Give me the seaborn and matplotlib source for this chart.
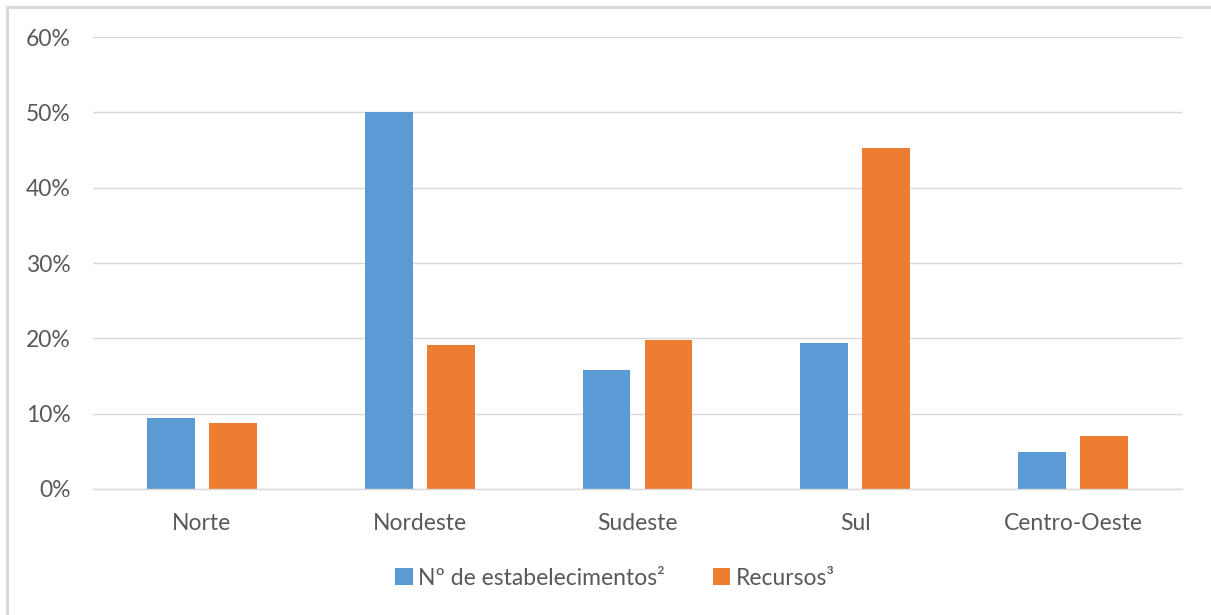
import pandas as pd
import matplotlib.pyplot as plt
import seaborn as sns
from matplotlib.lines import Line2D
from matplotlib.ticker import PercentFormatter

# --- dados ---
regioes = ["Norte", "Nordeste", "Sudeste", "Sul", "Centro-Oeste"]
estabelecimentos = [9.4, 50.1, 15.8, 19.4, 4.9]
recursos = [8.8, 19.1, 19.8, 45.3, 7.0]
series = ["Nº de estabelecimentos²", "Recursos³"]
cores = {series[0]: "#5B9BD5", series[1]: "#ED7D31"}

df = pd.DataFrame({
    "Regiao": regioes * 2,
    "Serie": [series[0]] * len(regioes) + [series[1]] * len(regioes),
    "Valor": estabelecimentos + recursos,
})

sns.set_theme(style="white")
plt.rcParams['font.family'] = ['Lato', 'DejaVu Sans']
texto = "#595959"
fs = 16.5

fig = plt.figure(figsize=(12.11, 6.15), dpi=100)
ax = fig.add_axes([0.0768, 0.2049, 0.8992, 0.7349])

sns.barplot(ax=ax, data=df, x="Regiao", y="Valor", hue="Serie", order=regioes,
            hue_order=series, palette=cores, width=0.57, gap=0.23,
            saturation=1, edgecolor="none", linewidth=0)

ax.set_ylim(0, 60)
ax.set_xlim(-0.5, len(regioes) - 0.5)
ax.set_yticks(range(0, 61, 10))
ax.yaxis.set_major_formatter(PercentFormatter(decimals=0))
ax.grid(axis="y", color="#D9D9D9", linewidth=1)
ax.set_axisbelow(True)
for s in ["top", "right", "left"]:
    ax.spines[s].set_visible(False)
ax.spines["bottom"].set_color("#D9D9D9")
ax.spines["bottom"].set_linewidth(1)
ax.tick_params(axis="y", length=0, pad=16, labelsize=fs, labelcolor=texto)
ax.tick_params(axis="x", length=0, pad=17, labelsize=fs, labelcolor=texto)
ax.set_xlabel("")
ax.set_ylabel("")

ax.legend(loc="center", bbox_to_anchor=(0.508, 0.06), bbox_transform=fig.transFigure,
          ncol=2, frameon=False, fontsize=fs, labelcolor=texto, handlelength=0.75,
          handleheight=0.75, handletextpad=0.25, columnspacing=2.1)

# moldura do gráfico (apenas topo e esquerda visíveis)
x0, y0 = 7 / 1211, 1 - 6.5 / 615
fig.add_artist(Line2D([x0, 1], [y0, y0], transform=fig.transFigure,
                      color="#D9D9D9", linewidth=2.2))
fig.add_artist(Line2D([x0, x0], [0, y0], transform=fig.transFigure,
                      color="#D9D9D9", linewidth=2.2))

plt.savefig("out.png", dpi=100)
